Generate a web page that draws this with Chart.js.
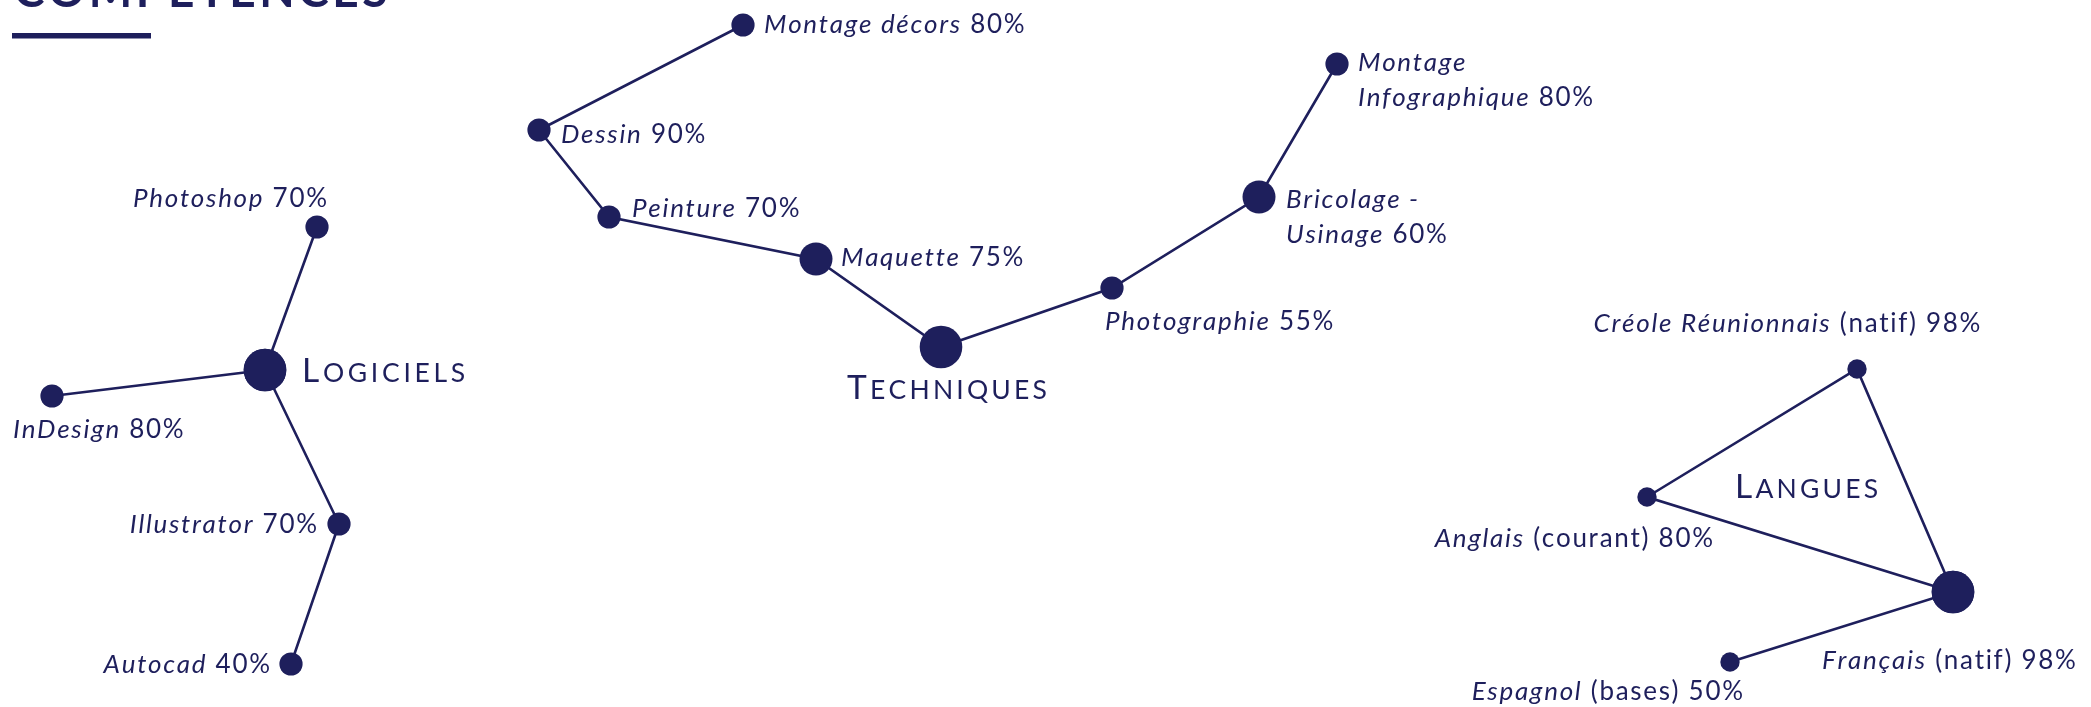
<!DOCTYPE html>
<html lang="fr">
<head>
<meta charset="utf-8">
<title>Compétences</title>
<script src="https://cdn.jsdelivr.net/npm/chart.js@4/dist/chart.umd.min.js"></script>
<style>
  html, body { margin: 0; padding: 0; background: #ffffff; overflow: hidden; }
  #wrap { width: 2091px; height: 707px; position: relative; }
  canvas { display: block; }
</style>
</head>
<body>
<div id="wrap"><canvas id="chart" width="2091" height="707"></canvas></div>
<script>
// ---------------- DATA ----------------
const pageTitle = 'Compétences';
const groupTitles = ['Logiciels', 'Techniques', 'Langues'];

const logicielsSkills = ['Photoshop', 'InDesign', 'Illustrator', 'Autocad'];
const logicielsLevels = [70, 80, 70, 40];
const logicielsX = [317, 52, 339, 291];
const logicielsY = [227, 396, 524, 664];
const logicielsHub = [265, 370];

const techniquesSkills = ['Montage décors', 'Dessin', 'Peinture', 'Maquette', 'Photographie', 'Bricolage - Usinage', 'Montage Infographique'];
const techniquesLevels = [80, 90, 70, 75, 55, 60, 80];
const techniquesX = [743, 539, 609, 816, 1112, 1259, 1337];
const techniquesY = [25, 130, 217, 259, 288, 197, 64];
const techniquesHub = [941, 347];

const languesSkills = ['Créole Réunionnais', 'Anglais', 'Français', 'Espagnol'];
const languesNotes = ['(natif)', '(courant)', '(natif)', '(bases)'];
const languesLevels = [98, 80, 98, 50];
const languesX = [1857, 1647, 1953, 1730];
const languesY = [369, 497, 592, 662];
const languesTitleAt = [1735, 498];

// ---------------- STYLE ----------------
const INK = '#1e1f5c';
const FONT = 'Lato, "Open Sans", sans-serif';
const LABEL_SIZE = 26;
const LABEL_SPACING = 1.7;
const LINE_GAP = 35;
const R_LEAF = 11.6, R_MID = 16.5, R_HUB = 21.3, R_LANG = 9.7;
const nodeRadius = { 'Maquette': R_MID, 'Bricolage - Usinage': R_MID, 'Français': R_HUB };

const labelStyle = {
  'Photoshop': { dx: 10, dy: -20, align: 'right' },
  'InDesign': { dx: -39, dy: 42, align: 'left' },
  'Illustrator': { dx: -22, dy: 9, align: 'right' },
  'Autocad': { dx: -21, dy: 9, align: 'right' },
  'Montage décors': { dx: 21, dy: 8, align: 'left' },
  'Dessin': { dx: 22, dy: 13, align: 'left' },
  'Peinture': { dx: 23, dy: 0, align: 'left' },
  'Maquette': { dx: 25, dy: 7, align: 'left' },
  'Photographie': { dx: -7, dy: 42, align: 'left' },
  'Bricolage - Usinage': { dx: 27, dy: 11, align: 'left', lines: ['Bricolage -', 'Usinage'] },
  'Montage Infographique': { dx: 21, dy: 7, align: 'left', lines: ['Montage', 'Infographique'] },
  'Créole Réunionnais': { dx: -70, dy: -37, align: 'center' },
  'Anglais': { dx: 66, dy: 50, align: 'right' },
  'Français': { dx: -131, dy: 77, align: 'left' },
  'Espagnol': { dx: 13, dy: 38, align: 'right' }
};
const groupTitleStyle = {
  'Logiciels': { dx: 37, dy: 12, align: 'left' },
  'Techniques': { dx: 6, dy: 52, align: 'center' },
  'Langues': { dx: 0, dy: 0, align: 'left' }
};

// ---------------- BUILD ----------------
function pt(x, y) { return { x: x, y: y }; }
function radiusFor(name, base) { return nodeRadius[name] !== undefined ? nodeRadius[name] : base; }

const lineDefaults = {
  showLine: true,
  borderColor: INK,
  borderWidth: 2.6,
  backgroundColor: INK,
  pointBackgroundColor: INK,
  pointBorderWidth: 0,
  pointHoverRadius: 0,
  tension: 0,
  clip: false
};

// Logiciels: Photoshop - hub - Illustrator - Autocad, and InDesign - hub
const logA = [0, 'hub', 2, 3];
const logB = [1, 'hub'];
function logPoint(i) { return i === 'hub' ? pt(logicielsHub[0], logicielsHub[1]) : pt(logicielsX[i], logicielsY[i]); }
function logRadius(i) { return i === 'hub' ? R_HUB : radiusFor(logicielsSkills[i], R_LEAF); }

// Techniques chain
const techChain = [0, 1, 2, 3, 'hub', 4, 5, 6];
function techPoint(i) { return i === 'hub' ? pt(techniquesHub[0], techniquesHub[1]) : pt(techniquesX[i], techniquesY[i]); }
function techRadius(i) { return i === 'hub' ? R_HUB : radiusFor(techniquesSkills[i], R_LEAF); }

// Langues: Espagnol - Français - Créole - Anglais - Français
const langChain = [3, 2, 0, 1, 2];
function langPoint(i) { return pt(languesX[i], languesY[i]); }
function langRadius(i) { return radiusFor(languesSkills[i], R_LANG); }

const datasets = [
  Object.assign({}, lineDefaults, { label: 'Logiciels A', data: logA.map(logPoint), pointRadius: logA.map(logRadius) }),
  Object.assign({}, lineDefaults, { label: 'Logiciels B', data: logB.map(logPoint), pointRadius: logB.map(logRadius) }),
  Object.assign({}, lineDefaults, { label: 'Techniques', data: techChain.map(techPoint), pointRadius: techChain.map(techRadius) }),
  Object.assign({}, lineDefaults, { label: 'Langues', data: langChain.map(langPoint), pointRadius: langChain.map(langRadius) })
];

// ---------------- TEXT DRAWING ----------------
function fontOf(italic, size, weight) {
  return (italic ? 'italic ' : '') + (weight || 400) + ' ' + size + 'px ' + FONT;
}
function spacedWidth(ctx, t, sp) {
  let w = 0;
  for (const c of t) w += ctx.measureText(c).width + sp;
  return w;
}
function spacedText(ctx, t, x, y, sp) {
  let cx = x;
  for (const c of t) { ctx.fillText(c, cx, y); cx += ctx.measureText(c).width + sp; }
  return cx;
}
function drawParts(ctx, parts, x, y, align) {
  let total = 0;
  parts.forEach(p => { ctx.font = fontOf(p.it, LABEL_SIZE); p.w = spacedWidth(ctx, p.t, LABEL_SPACING); total += p.w; });
  total -= LABEL_SPACING;
  let cx = align === 'right' ? x - total : (align === 'center' ? x - total / 2 : x);
  ctx.textAlign = 'left';
  parts.forEach(p => { ctx.font = fontOf(p.it, LABEL_SIZE); spacedText(ctx, p.t, cx, y, LABEL_SPACING); cx += p.w; });
}
function drawLabel(ctx, px, py, name, note, level) {
  const st = labelStyle[name];
  const lines = st.lines || [name];
  lines.forEach((ln, k) => {
    const parts = [{ t: ln, it: true }];
    if (k === lines.length - 1) {
      if (note) parts.push({ t: ' ' + note, it: false });
      parts.push({ t: ' ' + level + '%', it: false });
    }
    drawParts(ctx, parts, px + st.dx, py + st.dy + k * LINE_GAP, st.align);
  });
}
function drawSmallCaps(ctx, text, x, y, align, big, small, spacing) {
  const chars = text.toUpperCase().split('');
  const widths = chars.map((c, i) => { ctx.font = fontOf(false, i === 0 ? big : small); return ctx.measureText(c).width; });
  const total = widths.reduce((a, b) => a + b, 0) + spacing * (chars.length - 1);
  let cx = align === 'center' ? x - total / 2 : (align === 'right' ? x - total : x);
  ctx.textAlign = 'left';
  chars.forEach((c, i) => {
    ctx.font = fontOf(false, i === 0 ? big : small);
    ctx.fillText(c, cx, y);
    cx += widths[i] + spacing;
  });
}

const labelPlugin = {
  id: 'nodeLabels',
  afterDraw(chart) {
    const ctx = chart.ctx;
    const sx = chart.scales.x, sy = chart.scales.y;
    const X = v => sx.getPixelForValue(v), Y = v => sy.getPixelForValue(v);
    ctx.save();
    ctx.fillStyle = INK;
    ctx.textBaseline = 'alphabetic';

    // Page title (cut at top) and underline
    ctx.font = fontOf(false, 46, 700);
    spacedText(ctx, pageTitle.toUpperCase(), 14, 7, 3.6);
    ctx.fillRect(12, 33, 139, 5.5);

    // Logiciels
    logicielsSkills.forEach((s, i) => drawLabel(ctx, X(logicielsX[i]), Y(logicielsY[i]), s, null, logicielsLevels[i]));
    let g = groupTitleStyle['Logiciels'];
    drawSmallCaps(ctx, groupTitles[0], X(logicielsHub[0]) + g.dx, Y(logicielsHub[1]) + g.dy, g.align, 33.5, 26.5, 3.7);

    // Techniques
    techniquesSkills.forEach((s, i) => drawLabel(ctx, X(techniquesX[i]), Y(techniquesY[i]), s, null, techniquesLevels[i]));
    g = groupTitleStyle['Techniques'];
    drawSmallCaps(ctx, groupTitles[1], X(techniquesHub[0]) + g.dx, Y(techniquesHub[1]) + g.dy, g.align, 33.5, 26.5, 3.2);

    // Langues
    languesSkills.forEach((s, i) => drawLabel(ctx, X(languesX[i]), Y(languesY[i]), s, languesNotes[i], languesLevels[i]));
    g = groupTitleStyle['Langues'];
    drawSmallCaps(ctx, groupTitles[2], X(languesTitleAt[0]) + g.dx, Y(languesTitleAt[1]) + g.dy, g.align, 33.5, 26.5, 3.2);

    ctx.restore();
  }
};

function render() {
  new Chart(document.getElementById('chart').getContext('2d'), {
    type: 'scatter',
    data: { datasets: datasets },
    options: {
      responsive: false,
      maintainAspectRatio: false,
      animation: false,
      events: [],
      layout: { padding: 0, autoPadding: false },
      plugins: { legend: { display: false }, tooltip: { enabled: false }, title: { display: false } },
      scales: {
        x: { type: 'linear', min: 0, max: 2091, display: false },
        y: { type: 'linear', min: 0, max: 707, reverse: true, display: false }
      }
    },
    plugins: [labelPlugin]
  });
}

const fontLoads = [
  '400 26px Lato', 'italic 400 26px Lato', '700 46px Lato', '400 33px Lato'
].map(f => document.fonts && document.fonts.load ? document.fonts.load(f).catch(() => null) : Promise.resolve());
Promise.all(fontLoads).then(render, render);
</script>
</body>
</html>
